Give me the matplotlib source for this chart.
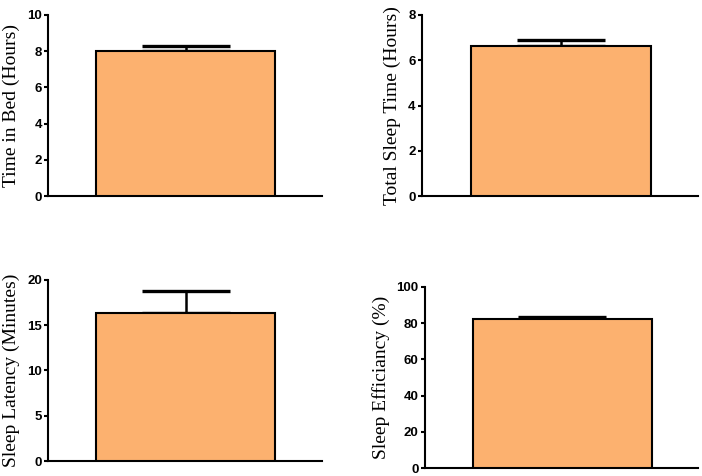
import matplotlib
matplotlib.use("Agg")
import matplotlib.pyplot as plt

# Sleep measures, one bar per panel (mean + upper error)
LABELS = ["Time in Bed (Hours)", "Total Sleep Time (Hours)",
          "Sleep Latency (Minutes)", "Sleep Efficiancy (%)"]
MEANS = [8.02, 6.63, 16.35, 82.3]
ERRORS = [0.27, 0.27, 2.45, 1.2]
YMAX = [10, 8, 20, 100]
YSTEP = [2, 2, 5, 20]

BAR_COLOR = "#FCB16F"

# axes rectangles in figure fraction (left, bottom, width, height)
RECTS = [
    (0.0684, 0.5882, 0.3903, 0.3803),
    (0.6011, 0.5882, 0.3932, 0.3803),
    (0.0684, 0.0315, 0.3903, 0.3803),
    (0.6054, 0.0168, 0.3889, 0.3803),
]

fig = plt.figure(figsize=(7.02, 4.76), dpi=100)

for i in range(4):
    ax = fig.add_axes(RECTS[i])
    ax.bar([0], [MEANS[i]], width=1.0, color=BAR_COLOR, edgecolor="black",
           linewidth=1.5, zorder=3)
    ax.errorbar([0], [MEANS[i]], yerr=[[0], [ERRORS[i]]], fmt="none",
                ecolor="black", elinewidth=1.8, capsize=32, capthick=2.4,
                zorder=2)
    ax.set_xlim(-0.77, 0.76)
    ax.set_ylim(0, YMAX[i])
    ax.set_yticks(range(0, YMAX[i] + 1, YSTEP[i]))
    ax.set_xticks([])
    for s in ["top", "right"]:
        ax.spines[s].set_visible(False)
    for s in ["left", "bottom"]:
        ax.spines[s].set_linewidth(1.5)
    ax.tick_params(axis="y", direction="out", length=3, width=1.5, pad=1.5)
    for t in ax.get_yticklabels():
        t.set_fontfamily("Liberation Sans")
        t.set_fontweight("bold")
        t.set_fontsize(9.5)
    ax.set_ylabel(LABELS[i], family="Liberation Serif", fontsize=14,
                  labelpad=5)

fig.savefig("out.png", dpi=100)
